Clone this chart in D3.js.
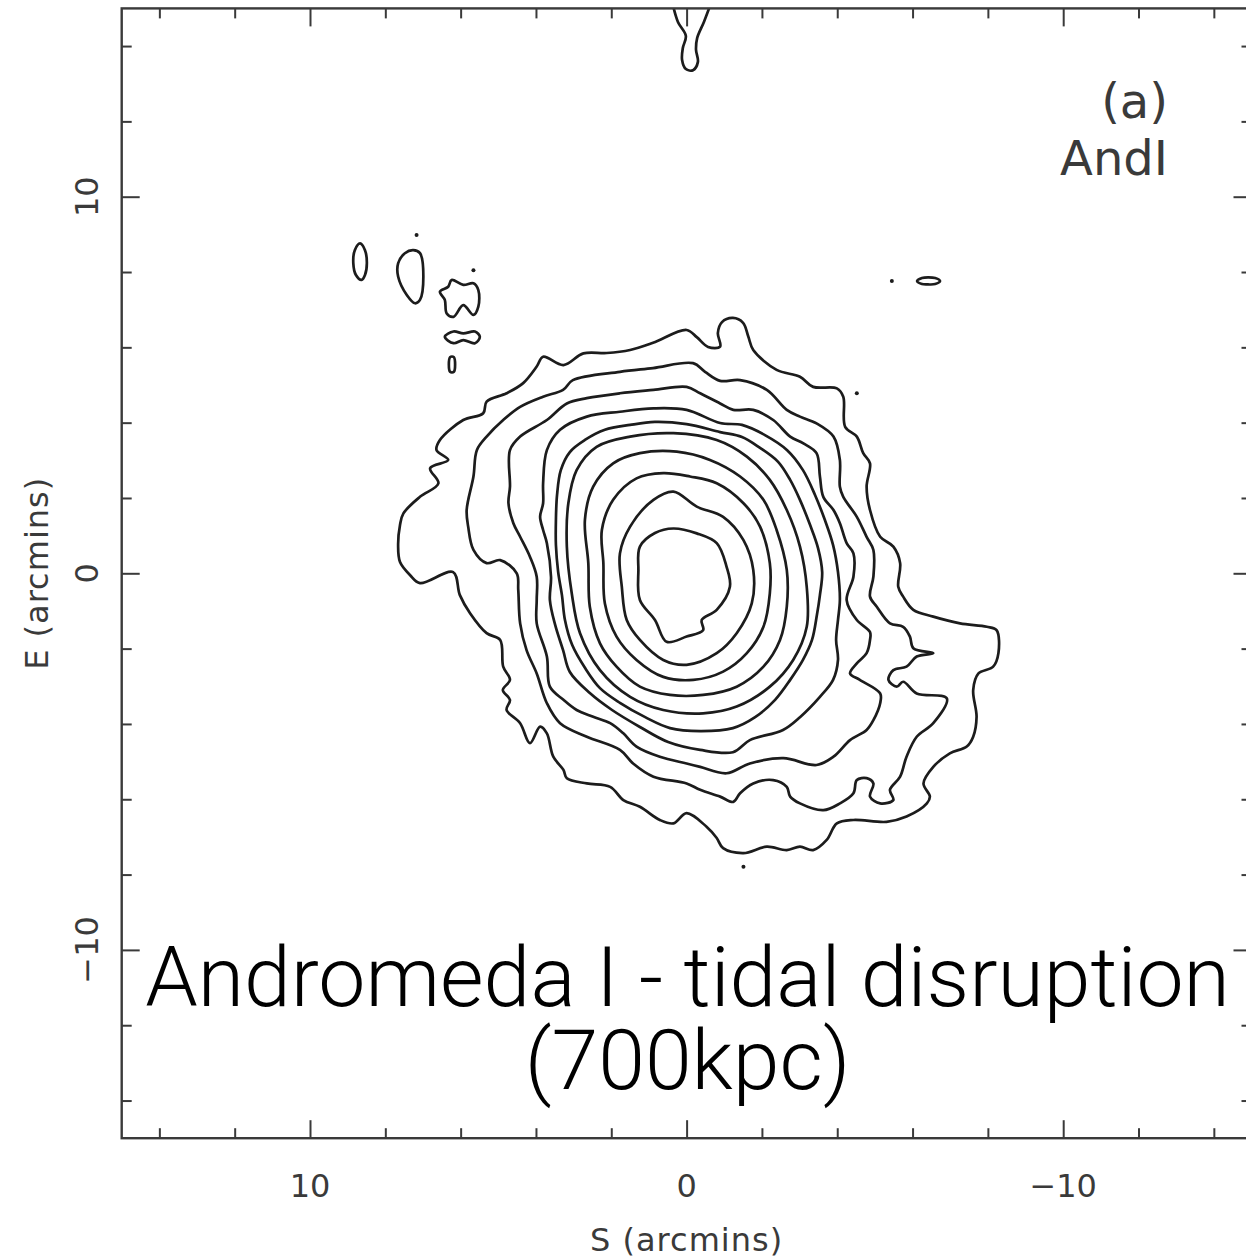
<!DOCTYPE html>
<html>
<head>
<meta charset="utf-8">
<script src="https://cdn.jsdelivr.net/npm/d3@7"></script>
<style>
  html, body { margin: 0; padding: 0; background: #fff; }
  svg { display: block; }
</style>
</head>
<body>
<script>
// ---- Axis definitions (arcmin offsets from the galaxy centre) ----
const tickValues = [-14, -12, -10, -8, -6, -4, -2, 0, 2, 4, 6, 8, 10, 12, 14];
const majorTicks = [10, 0, -10];
const tickLabels = ["10", "0", "\u221210"];
const xAxisTitle = "S (arcmins)";
const yAxisTitle = "E (arcmins)";
const panelTag = ["(a)", "AndI"];
const captionLines = ["Andromeda I - tidal disruption", "(700kpc)"];

// ---- Isophote contours, innermost first: [S offset, E offset] in arcmin ----
const isophote1 = [[0.35,1.19],[0.84,1.07],[1.24,0.71],[1.28,0.09],[1.24,-0.71],[0.84,-1.24],[0.53,-1.82],[0.00,-1.68],[-0.44,-1.51],[-0.40,-1.24],[-0.80,-0.97],[-1.15,-0.36],[-1.06,0.18],[-0.80,0.80],[-0.27,1.06]];
const isophote2 = [[0.35,2.17],[0.88,1.95],[1.50,1.24],[1.77,0.53],[1.72,-0.36],[1.59,-1.24],[1.24,-1.77],[0.62,-2.30],[0.00,-2.43],[-0.80,-2.12],[-1.33,-1.59],[-1.73,-0.80],[-1.77,0.09],[-1.51,0.88],[-0.97,1.50],[-0.27,1.77]];
const isophote3 = [[0.62,2.66],[1.33,2.52],[1.95,1.95],[2.25,1.15],[2.21,0.27],[2.17,-0.80],[1.86,-1.68],[1.33,-2.30],[0.62,-2.75],[-0.18,-2.83],[-0.97,-2.61],[-1.60,-2.12],[-2.04,-1.42],[-2.21,-0.53],[-2.21,0.27],[-1.95,1.24],[-1.51,1.86],[-0.80,2.39],[-0.09,2.57]];
const isophote4 = [[1.24,3.19],[1.95,2.92],[2.48,2.30],[2.70,1.42],[2.61,0.27],[2.57,-0.89],[2.30,-1.86],[1.86,-2.48],[1.24,-3.01],[0.44,-3.23],[-0.44,-3.23],[-1.33,-3.01],[-2.04,-2.48],[-2.48,-1.77],[-2.66,-0.89],[-2.66,0.09],[-2.39,1.15],[-2.04,1.95],[-1.42,2.57],[-0.62,3.01],[0.26,3.23]];
const isophote5 = [[1.50,3.63],[2.39,3.36],[2.92,2.74],[3.14,1.86],[3.18,0.71],[3.05,-0.53],[2.83,-1.59],[2.30,-2.57],[1.50,-3.28],[0.62,-3.63],[-0.44,-3.72],[-1.33,-3.54],[-2.21,-3.01],[-2.83,-2.30],[-3.19,-1.42],[-3.19,-0.36],[-3.01,0.71],[-2.66,1.68],[-2.21,2.48],[-1.60,3.10],[-0.80,3.54],[0.35,3.72]];
const isophote6 = [[0.00,3.96],[-0.89,3.75],[-1.47,3.62],[-1.95,3.33],[-2.43,2.96],[-2.75,2.48],[-3.01,1.95],[-3.28,1.28],[-3.49,0.67],[-3.60,0.03],[-3.54,-0.58],[-3.46,-1.11],[-3.33,-1.77],[-3.09,-2.30],[-2.75,-2.83],[-2.35,-3.36],[-1.82,-3.82],[-1.23,-4.11],[-0.36,-4.19],[0.44,-4.11],[1.10,-3.82],[1.77,-3.44],[2.30,-3.05],[2.70,-2.51],[3.04,-1.90],[3.23,-1.24],[3.31,-0.58],[3.41,0.03],[3.47,0.75],[3.47,1.42],[3.44,2.08],[3.34,2.74],[3.10,3.22],[2.70,3.54],[2.17,3.81],[1.50,3.94],[0.84,4.02]];
const isophote7 = [[-0.89,3.99],[-1.47,3.94],[-2.08,3.67],[-2.67,3.27],[-3.09,2.74],[-3.41,2.08],[-3.67,1.42],[-3.89,0.75],[-4.02,0.03],[-4.07,-0.71],[-4.02,-1.24],[-3.97,-1.77],[-4.02,-2.30],[-3.89,-2.83],[-3.54,-3.28],[-3.01,-3.82],[-2.56,-4.16],[-1.68,-4.43],[-1.23,-4.75],[-0.36,-4.69],[0.49,-4.48],[1.24,-4.08],[1.98,-3.63],[2.57,-3.18],[3.10,-2.62],[3.28,-2.04],[3.49,-1.37],[3.63,-0.71],[3.60,-0.10],[3.71,0.80],[3.81,1.15],[3.89,1.50],[3.81,1.86],[3.81,2.39],[3.71,3.27],[3.36,3.81],[2.65,4.16],[1.77,4.29],[0.88,4.38],[0.00,4.34]];
const isophote8 = [[3.71,4.07],[3.18,4.51],[2.65,4.65],[1.77,4.78],[0.88,4.87],[0.00,4.95],[-0.36,4.78],[-0.89,4.51],[-1.24,4.34],[-1.77,4.34],[-2.30,4.07],[-2.75,3.63],[-3.10,3.45],[-3.45,3.19],[-3.54,2.57],[-3.63,2.03],[-3.90,1.68],[-4.07,1.33],[-4.25,0.80],[-4.43,0.53],[-4.43,-0.09],[-4.25,-0.71],[-4.52,-1.24],[-4.87,-1.56],[-4.87,-1.77],[-4.78,-2.12],[-4.52,-2.39],[-4.34,-2.66],[-4.60,-2.83],[-5.14,-3.19],[-5.14,-3.45],[-4.96,-3.90],[-4.78,-4.16],[-4.34,-4.43],[-3.90,-4.87],[-3.45,-5.09],[-2.57,-4.91],[-1.68,-5.05],[-1.06,-5.31],[-0.36,-5.14],[0.00,-5.05],[0.71,-4.87],[1.33,-4.60],[1.68,-4.25],[2.03,-3.98],[2.48,-3.81],[2.92,-3.63],[3.27,-3.36],[3.63,-3.01],[3.71,-2.21],[3.98,-1.33],[3.98,-0.71],[3.98,-0.09],[4.16,0.44],[4.42,0.97],[4.60,1.33],[4.73,1.86],[4.69,2.30],[4.69,3.27],[4.42,3.63]];
const isophote9 = [[5.66,2.57],[5.57,3.27],[5.31,3.63],[4.87,4.07],[4.42,4.42],[3.81,4.69],[3.28,4.87],[3.02,5.13],[1.77,5.35],[0.89,5.45],[-0.17,5.58],[-0.49,5.35],[-0.89,5.11],[-1.42,5.13],[-2.13,4.87],[-2.66,4.34],[-3.01,4.16],[-3.45,3.98],[-3.90,3.63],[-4.07,3.01],[-4.07,2.30],[-4.16,2.03],[-4.52,1.50],[-4.78,0.97],[-4.96,0.62],[-4.96,-0.09],[-4.87,-0.62],[-5.05,-0.89],[-5.40,-1.33],[-5.75,-1.42],[-5.93,-1.68],[-6.02,-1.99],[-6.55,-2.12],[-6.11,-2.21],[-5.84,-2.48],[-5.49,-2.57],[-5.36,-2.83],[-5.58,-3.01],[-5.75,-2.88],[-6.11,-3.19],[-6.91,-3.32],[-6.55,-3.98],[-6.11,-4.34],[-5.84,-4.87],[-5.67,-5.40],[-5.40,-5.75],[-5.49,-6.02],[-5.14,-6.11],[-4.87,-5.93],[-4.96,-5.58],[-4.78,-5.44],[-4.52,-5.49],[-4.43,-5.84],[-4.07,-6.11],[-3.63,-6.29],[-3.01,-6.11],[-2.75,-5.93],[-2.66,-5.67],[-2.30,-5.49],[-1.77,-5.58],[-1.42,-5.84],[-1.24,-6.07],[-0.89,-5.93],[-0.36,-5.75],[0.00,-5.58],[0.88,-5.40],[1.42,-5.05],[1.77,-4.69],[2.65,-4.34],[3.36,-3.98],[3.71,-3.45],[3.98,-2.66],[4.25,-2.04],[4.42,-1.33],[4.47,-0.44],[4.51,0.00],[4.95,0.35],[5.31,0.27],[5.66,0.62],[5.80,1.24],[5.84,1.68]];
const isophote10 = [[7.52,1.59],[7.08,2.03],[6.59,2.39],[6.81,2.79],[6.33,3.01],[6.64,3.27],[6.55,3.54],[5.93,4.07],[5.40,4.25],[5.31,4.56],[4.78,4.78],[4.34,5.05],[3.98,5.49],[3.81,5.75],[3.27,5.53],[2.74,5.84],[2.12,5.85],[1.50,5.93],[0.89,6.12],[0.00,6.46],[-0.27,6.27],[-0.57,6.01],[-0.89,6.02],[-0.83,6.38],[-0.94,6.67],[-1.23,6.78],[-1.50,6.65],[-1.64,6.28],[-1.77,5.93],[-2.39,5.40],[-3.01,5.22],[-3.36,4.95],[-3.99,4.91],[-4.16,4.69],[-4.21,3.89],[-4.52,3.63],[-4.69,3.19],[-4.87,2.92],[-4.78,2.30],[-4.87,1.68],[-5.14,0.97],[-5.49,0.71],[-5.67,0.27],[-5.62,-0.36],[-5.75,-0.62],[-6.02,-0.97],[-6.55,-1.15],[-7.26,-1.33],[-7.97,-1.42],[-8.23,-1.51],[-8.28,-2.12],[-8.14,-2.48],[-7.75,-2.66],[-7.61,-3.10],[-7.70,-3.81],[-7.61,-4.34],[-7.44,-4.60],[-6.99,-4.78],[-6.55,-5.14],[-6.29,-5.58],[-6.46,-5.93],[-6.38,-6.11],[-5.84,-6.46],[-5.31,-6.60],[-4.43,-6.55],[-3.99,-6.64],[-3.72,-7.08],[-3.36,-7.35],[-3.01,-7.26],[-2.66,-7.35],[-2.13,-7.26],[-1.51,-7.43],[-0.97,-7.30],[-0.80,-7.03],[-0.53,-6.73],[0.00,-6.37],[0.35,-6.64],[0.71,-6.55],[1.24,-6.20],[1.68,-6.02],[2.03,-5.67],[2.65,-5.58],[3.18,-5.44],[3.27,-5.22],[3.54,-4.87],[3.71,-4.25],[3.89,-4.07],[4.16,-4.51],[4.42,-3.98],[4.78,-3.63],[4.69,-3.36],[4.88,-3.10],[4.69,-2.83],[4.87,-2.48],[4.95,-1.77],[5.31,-1.59],[5.75,-1.06],[6.02,-0.58],[6.20,0.03],[7.08,-0.26],[7.34,-0.05],[7.61,0.30],[7.66,0.75],[7.61,1.28]];

// Small detached closed contours
const islandNE1 = [[8.67,8.76],[8.54,8.58],[8.49,8.24],[8.54,7.92],[8.63,7.79],[8.78,7.92],[8.85,8.23],[8.81,8.58]];
const islandNE2 = [[7.26,8.58],[7.08,8.50],[6.99,7.88],[7.08,7.26],[7.21,7.17],[7.43,7.39],[7.66,7.88],[7.66,8.23],[7.48,8.50]];
const islandNE3 = [[6.55,7.48],[6.33,7.61],[6.24,7.79],[5.93,7.66],[5.66,7.70],[5.53,7.52],[5.53,7.08],[5.66,6.86],[5.93,7.12],[6.19,6.81],[6.37,6.90],[6.42,7.26]];
const islandNE4 = [[6.42,6.28],[6.19,6.42],[5.93,6.37],[5.62,6.42],[5.49,6.28],[5.62,6.11],[5.93,6.19],[6.19,6.11]];
const islandNE5 = [[6.28,5.74],[6.18,5.74],[6.18,5.35],[6.28,5.35]];
const islandW = [[-6.12,7.76],[-6.25,7.84],[-6.41,7.86],[-6.60,7.84],[-6.73,7.76],[-6.60,7.68],[-6.41,7.67],[-6.25,7.68]];
// Open contour entering from the north edge
const northPlume = [[0.39,15.2],[0.23,14.64],[0.02,14.27],[0.10,13.95],[0.12,13.63],[0.02,13.39],[-0.17,13.36],[-0.30,13.58],[-0.25,13.90],[-0.28,14.21],[-0.46,14.64],[-0.67,15.2]];
// Single-pixel detections
const specks = [[7.17,8.98],[5.66,8.05],[-4.52,4.78],[-1.51,-7.79],[-5.45,7.76]];

const isophotes = [isophote1, isophote2, isophote3, isophote4, isophote5,
                   isophote6, isophote7, isophote8, isophote9, isophote10];
const islands = [islandNE1, islandNE2, islandNE3, islandNE4, islandNE5, islandW];

// ---- Layout ----
const W = 1246, H = 1260;
const frame = { left: 121.7, top: 8.4, size: 1129.8 };
const minorLen = 10, majorLen = 18;
const axisColor = "#3a3a3a", lineColor = "#1c1c1c";
const contourWidth = 2.7;

const svg = d3.select("body").append("svg")
  .attr("width", W).attr("height", H)
  .attr("viewBox", `0 0 ${W} ${H}`);

const x = d3.scaleLinear().domain([15, -15]).range([frame.left, frame.left + frame.size]);
const y = d3.scaleLinear().domain([15, -15]).range([frame.top, frame.top + frame.size]);

svg.append("defs").append("clipPath").attr("id", "plot-clip")
  .append("rect")
  .attr("x", frame.left).attr("y", frame.top)
  .attr("width", frame.size).attr("height", frame.size);

// ---- Contours ----
const plot = svg.append("g").attr("clip-path", "url(#plot-clip)");
const closedLine = d3.line().x(d => x(d[0])).y(d => y(d[1]))
  .curve(d3.curveCatmullRomClosed.alpha(0.5));
const openLine = d3.line().x(d => x(d[0])).y(d => y(d[1]))
  .curve(d3.curveCatmullRom.alpha(0.5));

plot.selectAll("path.isophote").data(isophotes).join("path")
  .attr("class", "isophote")
  .attr("d", closedLine)
  .attr("fill", "none").attr("stroke", lineColor)
  .attr("stroke-width", contourWidth).attr("stroke-linejoin", "round");

plot.selectAll("path.island").data(islands).join("path")
  .attr("class", "island")
  .attr("d", closedLine)
  .attr("fill", "none").attr("stroke", lineColor)
  .attr("stroke-width", contourWidth).attr("stroke-linejoin", "round");

plot.append("path").datum(northPlume)
  .attr("d", openLine)
  .attr("fill", "none").attr("stroke", lineColor)
  .attr("stroke-width", contourWidth).attr("stroke-linejoin", "round");

plot.selectAll("circle.speck").data(specks).join("circle")
  .attr("class", "speck")
  .attr("cx", d => x(d[0])).attr("cy", d => y(d[1]))
  .attr("r", 2).attr("fill", lineColor);

// ---- Frame and inward-pointing ticks on all four sides ----
svg.append("rect")
  .attr("x", frame.left).attr("y", frame.top)
  .attr("width", frame.size).attr("height", frame.size)
  .attr("fill", "none").attr("stroke", axisColor).attr("stroke-width", 2.4);

function edgeTicks(axisFn, scale, transform) {
  const g = svg.append("g").attr("transform", transform)
    .call(axisFn(scale).tickValues(tickValues).tickSize(minorLen).tickFormat(""));
  g.select(".domain").remove();
  g.selectAll(".tick line")
    .attr("stroke", axisColor).attr("stroke-width", 2)
    .each(function (d) {
      if (!majorTicks.includes(d)) return;
      const line = d3.select(this);
      ["x2", "y2"].forEach(a => {
        const v = +line.attr(a);
        if (v) line.attr(a, v * majorLen / minorLen);
      });
    });
  return g;
}
edgeTicks(d3.axisTop, x, `translate(0,${frame.top + frame.size})`);
edgeTicks(d3.axisBottom, x, `translate(0,${frame.top})`);
edgeTicks(d3.axisRight, y, `translate(${frame.left},0)`);
edgeTicks(d3.axisLeft, y, `translate(${frame.left + frame.size},0)`);

// ---- Tick labels ----
const labelFont = "'DejaVu Sans', sans-serif";
svg.append("g").selectAll("text").data(majorTicks).join("text")
  .attr("x", d => x(d)).attr("y", 1197)
  .attr("text-anchor", "middle")
  .attr("font-family", labelFont).attr("font-size", 32)
  .attr("fill", axisColor)
  .text((d, i) => tickLabels[i]);

svg.append("g").selectAll("text").data(majorTicks).join("text")
  .attr("transform", d => `translate(98,${y(d)}) rotate(-90)`)
  .attr("text-anchor", "middle")
  .attr("font-family", labelFont).attr("font-size", 32)
  .attr("fill", axisColor)
  .text((d, i) => tickLabels[i]);

// ---- Axis titles ----
svg.append("text")
  .attr("x", x(0)).attr("y", 1251)
  .attr("text-anchor", "middle")
  .attr("font-family", labelFont).attr("font-size", 32)
  .attr("letter-spacing", 1)
  .attr("fill", axisColor)
  .text(xAxisTitle);

svg.append("text")
  .attr("transform", `translate(48,${y(0)}) rotate(-90)`)
  .attr("text-anchor", "middle")
  .attr("font-family", labelFont).attr("font-size", 32)
  .attr("letter-spacing", 1)
  .attr("fill", axisColor)
  .text(yAxisTitle);

// ---- Panel tag ----
svg.append("text")
  .attr("x", 1168).attr("y", 118)
  .attr("text-anchor", "end")
  .attr("font-family", labelFont).attr("font-size", 48)
  .attr("fill", axisColor)
  .text(panelTag[0]);
svg.append("text")
  .attr("x", 1168).attr("y", 175)
  .attr("text-anchor", "end")
  .attr("font-family", labelFont).attr("font-size", 48)
  .attr("fill", axisColor)
  .text(panelTag[1]);

// ---- Caption over the lower part of the panel ----
const captionFont = "'Roboto', 'Liberation Sans', sans-serif";
const captionCenter = 687.5, captionWidth = 1085;
const cap1 = svg.append("text")
  .attr("x", captionCenter).attr("y", 1006)
  .attr("text-anchor", "middle")
  .attr("font-family", captionFont).attr("font-weight", 300)
  .attr("font-size", 86).attr("fill", "#000")
  .text(captionLines[0]);
const measured = cap1.node().getComputedTextLength();
const captionSize = measured > 0 ? 86 * captionWidth / measured : 86;
cap1.attr("font-size", captionSize);
svg.append("text")
  .attr("x", captionCenter).attr("y", 1089)
  .attr("text-anchor", "middle")
  .attr("font-family", captionFont).attr("font-weight", 300)
  .attr("font-size", captionSize).attr("fill", "#000")
  .text(captionLines[1]);
</script>
</body>
</html>
